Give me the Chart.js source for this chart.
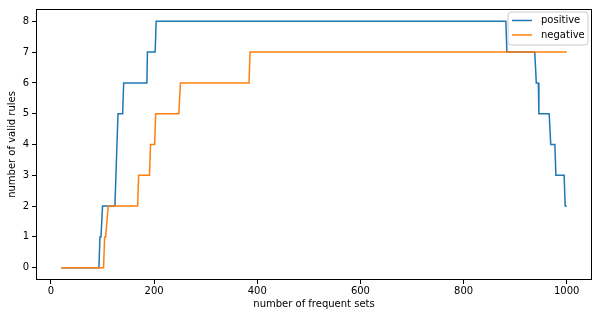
<!DOCTYPE html>
<html>
<head>
<meta charset="utf-8">
<script src="https://cdn.jsdelivr.net/npm/chart.js@4"></script>
<style>
  html, body { margin: 0; padding: 0; background: #fff; }
  #wrap { width: 599px; height: 317px; }
</style>
</head>
<body>
<div id="wrap"><canvas id="rulesChart" width="599" height="317"></canvas></div>
<script>
// 數據
const seriesNames = ['positive', 'negative'];
const posX = [20, 93, 95, 97, 100, 124, 130, 139, 141, 186, 187, 202, 204, 882, 884, 938, 941, 945, 946, 966, 969, 977, 979, 995, 997, 1000];
const posY = [0, 0, 1, 1, 2, 2, 5, 5, 6, 6, 7, 7, 8, 8, 7, 7, 6, 6, 5, 5, 4, 4, 3, 3, 2, 2];
const negX = [20, 102, 104, 106, 111, 168, 170, 191, 193, 201, 203, 248, 251, 384, 386, 1000];
const negY = [0, 0, 1, 1, 2, 2, 3, 3, 4, 4, 5, 5, 6, 6, 7, 7];
const xTicks = [0, 200, 400, 600, 800, 1000];
const yTicks = [0, 1, 2, 3, 4, 5, 6, 7, 8];

const FONT = 'DejaVu Sans';

function toPoints(xs, ys) {
    return xs.map((x, i) => ({ x: x, y: ys[i] }));
}

// 外框 + 圖例
const frameAndLegend = {
    id: 'frameAndLegend',
    afterDatasetsDraw(chart) {
        const { ctx, chartArea: a } = chart;
        ctx.save();
        ctx.strokeStyle = '#000';
        ctx.lineWidth = 1;
        ctx.strokeRect(a.left + 0.5, a.top + 0.5, a.right - a.left - 1, a.bottom - a.top - 1);

        // legend box
        const bx = 508, by = 12, bw = 80, bh = 33, r = 3;
        ctx.beginPath();
        ctx.moveTo(bx + r, by);
        ctx.arcTo(bx + bw, by, bx + bw, by + bh, r);
        ctx.arcTo(bx + bw, by + bh, bx, by + bh, r);
        ctx.arcTo(bx, by + bh, bx, by, r);
        ctx.arcTo(bx, by, bx + bw, by, r);
        ctx.closePath();
        ctx.fillStyle = 'rgba(255,255,255,0.8)';
        ctx.fill();
        ctx.strokeStyle = '#cccccc';
        ctx.stroke();

        ctx.font = '10px ' + FONT;
        ctx.textBaseline = 'middle';
        ctx.textAlign = 'left';
        chart.data.datasets.forEach((ds, i) => {
            const ly = 20.5 + i * 14.5;
            ctx.strokeStyle = ds.borderColor;
            ctx.lineWidth = 1.5;
            ctx.beginPath();
            ctx.moveTo(512, ly);
            ctx.lineTo(532, ly);
            ctx.stroke();
            ctx.fillStyle = '#000';
            ctx.fillText(ds.label, 541, ly);
        });
        ctx.restore();
    }
};

new Chart(document.getElementById('rulesChart'), {
    type: 'scatter',
    data: {
        datasets: [
            {
                label: seriesNames[0],
                data: toPoints(posX, posY),
                borderColor: '#1f77b4',
                backgroundColor: '#1f77b4',
                showLine: true,
                borderWidth: 1.5,
                pointRadius: 0,
                tension: 0,
                order: 1
            },
            {
                label: seriesNames[1],
                data: toPoints(negX, negY),
                borderColor: '#ff7f0e',
                backgroundColor: '#ff7f0e',
                showLine: true,
                borderWidth: 1.5,
                pointRadius: 0,
                tension: 0,
                order: 0
            }
        ]
    },
    options: {
        responsive: false,
        animation: false,
        devicePixelRatio: 1,
        layout: { padding: { top: 7, right: 7, left: 0, bottom: 0 } },
        plugins: {
            legend: { display: false },
            tooltip: { enabled: false }
        },
        scales: {
            x: {
                type: 'linear',
                min: -29,
                max: 1049,
                afterBuildTicks: s => { s.ticks = xTicks.map(v => ({ value: v })); },
                afterFit: s => { s.height = 37; },
                grid: { drawOnChartArea: false, drawTicks: true, tickLength: 4, tickColor: '#000' },
                border: { display: false },
                ticks: {
                    font: { family: FONT, size: 10 }, color: '#000', padding: 1, maxRotation: 0,
                    callback: v => String(v)
                },
                title: { display: true, text: 'number of frequent sets', font: { family: FONT, size: 10 }, color: '#000', padding: { top: 1, bottom: 7 } }
            },
            y: {
                type: 'linear',
                min: -0.4,
                max: 8.4,
                afterBuildTicks: s => { s.ticks = yTicks.map(v => ({ value: v })); },
                afterFit: s => { s.width = 36; },
                grid: { drawOnChartArea: false, drawTicks: true, tickLength: 4, tickColor: '#000' },
                border: { display: false },
                ticks: { font: { family: FONT, size: 10 }, color: '#000', padding: 3 },
                title: { display: true, text: 'number of valid rules', font: { family: FONT, size: 10 }, color: '#000', padding: { top: 6, bottom: 2 } }
            }
        }
    },
    plugins: [frameAndLegend]
});
</script>
</body>
</html>
